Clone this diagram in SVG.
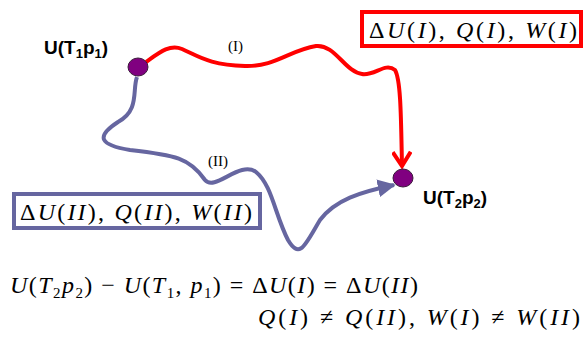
<svg xmlns="http://www.w3.org/2000/svg" width="584" height="345" viewBox="0 0 584 345">
<style>
.lbl{font-family:"Liberation Sans",Arial,sans-serif;font-weight:bold;font-size:19px;fill:#000}
.m{font-family:"Liberation Serif","Times New Roman",serif;fill:#000}
.i{font-style:italic}
.node{fill:#800080;stroke:#3a1a3a;stroke-width:1}
</style>
<defs>
<marker id="ar" viewBox="0 0 10 10" refX="8" refY="5" markerWidth="5" markerHeight="5" orient="auto" markerUnits="strokeWidth">
<path d="M1,0.5 L8,5 L1,9.5" fill="none" stroke="#ff0000" stroke-width="2" stroke-linejoin="miter"/>
</marker>
<marker id="ab" viewBox="0 0 10 10" refX="9" refY="5" markerWidth="4.5" markerHeight="4.5" orient="auto" markerUnits="strokeWidth">
<path d="M0,0 L10,5 L0,10 Z" fill="#6666a0"/>
</marker>
</defs>
<g id="connectors" fill="none">
<path d="M146,62 C160,52 170,44 182,49 C200,57 210,65 245,66 C275,67 290,50 316,46 C335,44 345,72 362,74 C375,76 385,62 395,70 C401,80 401,120 402,166" stroke="#ff0000" stroke-width="4" marker-end="url(#ar)"/>
<path d="M137,77 C132,90 140,110 118,122 C95,137 100,145 130,150 C175,155 190,158 205,180 C215,192 240,160 256,172 C272,185 275,215 288,240 C300,260 305,245 320,220 C335,200 360,192 394,185" stroke="#6666a0" stroke-width="4" marker-end="url(#ab)"/>
</g>
<g id="node1">
<ellipse class="node" cx="138" cy="67" rx="10" ry="9"/>
<text class="lbl" x="44" y="54">U(T<tspan font-size="13" dy="4">1</tspan><tspan dy="-4">p</tspan><tspan font-size="13" dy="4">1</tspan><tspan dy="-4">)</tspan></text>
</g>
<g id="node2">
<ellipse class="node" cx="403" cy="178" rx="10" ry="9"/>
<text class="lbl" x="423" y="204">U(T<tspan font-size="13" dy="4">2</tspan><tspan dy="-4">p</tspan><tspan font-size="13" dy="4">2</tspan><tspan dy="-4">)</tspan></text>
</g>
<g id="label-I">
<text class="m" x="228" y="51" font-size="15">(I)</text>
</g>
<g id="label-II">
<text class="m" x="208" y="166" font-size="15">(II)</text>
</g>
<g id="box-I">
<rect x="362" y="12" width="219" height="34" fill="#fff" stroke="#ff0000" stroke-width="4"/>
<text class="m" x="369" y="38" font-size="24" textLength="208" lengthAdjust="spacing">Δ<tspan class="i">U</tspan>(<tspan class="i">I</tspan>), <tspan class="i">Q</tspan>(<tspan class="i">I</tspan>), <tspan class="i">W</tspan>(<tspan class="i">I</tspan>)</text>
</g>
<g id="box-II">
<rect x="14" y="194" width="246" height="34" fill="#fff" stroke="#6666a0" stroke-width="4"/>
<text class="m" x="20" y="220" font-size="24" textLength="232" lengthAdjust="spacing">Δ<tspan class="i">U</tspan>(<tspan class="i">II</tspan>), <tspan class="i">Q</tspan>(<tspan class="i">II</tspan>), <tspan class="i">W</tspan>(<tspan class="i">II</tspan>)</text>
</g>
<g id="equations">
<text class="m" x="10" y="293" font-size="24" textLength="408" lengthAdjust="spacing"><tspan class="i">U</tspan>(<tspan class="i">T</tspan><tspan font-size="15" dy="5">2</tspan><tspan class="i" dy="-5">p</tspan><tspan font-size="15" dy="5">2</tspan><tspan dy="-5">) − </tspan><tspan class="i">U</tspan>(<tspan class="i">T</tspan><tspan font-size="15" dy="5">1</tspan><tspan dy="-5">, </tspan><tspan class="i">p</tspan><tspan font-size="15" dy="5">1</tspan><tspan dy="-5">) = Δ</tspan><tspan class="i">U</tspan>(<tspan class="i">I</tspan>) = Δ<tspan class="i">U</tspan>(<tspan class="i">II</tspan>)</text>
<text class="m" x="258" y="325" font-size="24" textLength="322" lengthAdjust="spacing"><tspan class="i">Q</tspan>(<tspan class="i">I</tspan>) ≠ <tspan class="i">Q</tspan>(<tspan class="i">II</tspan>), <tspan class="i">W</tspan>(<tspan class="i">I</tspan>) ≠ <tspan class="i">W</tspan>(<tspan class="i">II</tspan>)</text>
</g>
</svg>
